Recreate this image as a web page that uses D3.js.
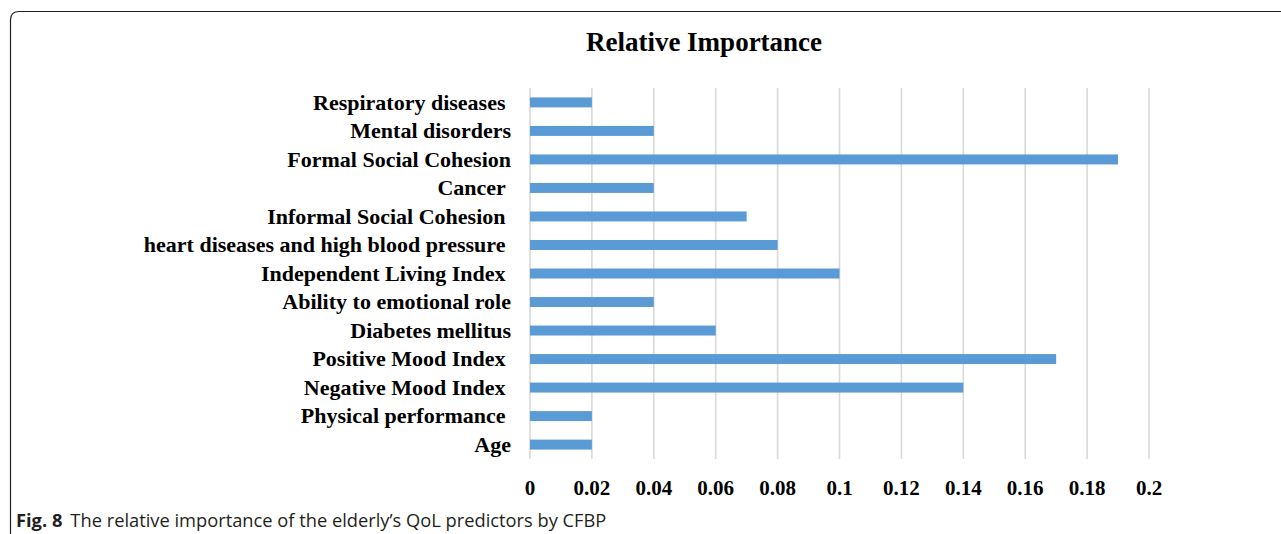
<html>
<head>
<script src="https://cdnjs.cloudflare.com/ajax/libs/d3/7.8.5/d3.min.js"></script>
<style>
  body { margin: 0; background: #fff; }
  text { white-space: pre; }
</style>
</head>
<body>
<svg id="chart" width="1281" height="534"></svg>
<script>
// data (top to bottom)
const categories = [
  "Respiratory diseases ",
  "Mental disorders",
  "Formal Social Cohesion",
  "Cancer ",
  "Informal Social Cohesion ",
  "heart diseases and high blood pressure ",
  "Independent Living Index ",
  "Ability to emotional role",
  "Diabetes mellitus",
  "Positive Mood Index ",
  "Negative Mood Index ",
  "Physical performance ",
  "Age"
];
const importance = [0.02, 0.04, 0.19, 0.04, 0.07, 0.08, 0.10, 0.04, 0.06, 0.17, 0.14, 0.02, 0.02];
const tickValues = [0, 0.02, 0.04, 0.06, 0.08, 0.1, 0.12, 0.14, 0.16, 0.18, 0.2];
const tickLabels = ["0", "0.02", "0.04", "0.06", "0.08", "0.1", "0.12", "0.14", "0.16", "0.18", "0.2"];

const svg = d3.select("#chart");

// figure frame (top + left border with rounded corner)
svg.append("path")
  .attr("d", "M10.5,534 L10.5,20 Q10.5,11.5 19,11.5 L1281,11.5")
  .attr("fill", "none")
  .attr("stroke", "#222")
  .attr("stroke-width", 1.2);

const x = d3.scaleLinear().domain([0, 0.2]).range([530, 1149]);
const y = d3.scaleBand().domain(categories).range([88, 459]).paddingInner(0.65).paddingOuter(0.33);

// gridlines
svg.append("g")
  .selectAll("line")
  .data(tickValues)
  .join("line")
  .attr("x1", d => x(d)).attr("x2", d => x(d))
  .attr("y1", 88).attr("y2", 459)
  .attr("stroke", "#d9d9d9")
  .attr("stroke-width", 1.6);

// bars
svg.append("g")
  .selectAll("rect")
  .data(importance)
  .join("rect")
  .attr("x", x(0))
  .attr("y", (d, i) => y(categories[i]))
  .attr("width", d => x(d) - x(0))
  .attr("height", y.bandwidth())
  .attr("fill", "#5b9bd5");

// category labels
svg.append("g")
  .selectAll("text")
  .data(categories)
  .join("text")
  .attr("x", 511)
  .attr("y", d => y(d) + y.bandwidth() / 2)
  .attr("dy", "0.33em")
  .attr("text-anchor", "end")
  .attr("font-family", "'Liberation Serif', 'Times New Roman', serif")
  .attr("font-weight", "bold")
  .attr("font-size", 22)
  .attr("fill", "#000")
  .text(d => d);

// x tick labels
svg.append("g")
  .selectAll("text")
  .data(tickValues)
  .join("text")
  .attr("x", d => x(d))
  .attr("y", 495)
  .attr("text-anchor", "middle")
  .attr("font-family", "'Liberation Serif', 'Times New Roman', serif")
  .attr("font-weight", "bold")
  .attr("font-size", 21)
  .attr("fill", "#000")
  .text((d, i) => tickLabels[i]);

// title
svg.append("text")
  .attr("x", 704)
  .attr("y", 51)
  .attr("text-anchor", "middle")
  .attr("font-family", "'Liberation Serif', 'Times New Roman', serif")
  .attr("font-weight", "bold")
  .attr("font-size", 27)
  .text("Relative Importance");

// caption
const cap = svg.append("text")
  .attr("x", 16)
  .attr("y", 527)
  .attr("font-family", "'Open Sans', 'Noto Sans', sans-serif")
  .attr("font-size", 18.3)
  .attr("fill", "#231f20");
cap.append("tspan").attr("font-weight", "bold").text("Fig. 8");
cap.append("tspan").attr("dx", 8).text("The relative importance of the elderly\u2019s QoL predictors by CFBP");
</script>
</body>
</html>
